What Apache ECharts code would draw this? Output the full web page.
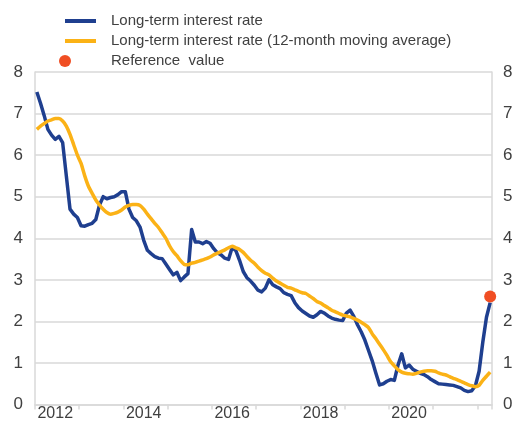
<!DOCTYPE html>
<html>
	<head>
		<meta charset="UTF-8">
		<title>Long-term interest rate</title>
		<script src="https://cdn.jsdelivr.net/npm/echarts@6/dist/echarts.min.js"></script>
		<style>
			html, body { margin: 0; padding: 0; background: #fff; }
		</style>
	</head>
	<body>
		<div id="main" style="width: 515px;height:421px;"></div>
		<script type="text/javascript">
		// monthly data, Jan 2012 .. Apr 2022
		var startYear = 2012;
		var monthCount = 124;
		var yTicks = [0, 1, 2, 3, 4, 5, 6, 7, 8];

		var longTermRate = [
			7.52, 7.25, 6.95, 6.62, 6.48, 6.38, 6.45, 6.30, 5.50, 4.70, 4.58, 4.50,
			4.30, 4.29, 4.33, 4.36, 4.45, 4.80, 5.00, 4.95, 4.98, 5.00, 5.05, 5.12,
			5.12, 4.70, 4.50, 4.42, 4.27, 3.95, 3.71, 3.63, 3.56, 3.52, 3.51, 3.38,
			3.25, 3.12, 3.18, 2.98, 3.07, 3.15, 4.21, 3.91, 3.91, 3.87, 3.92, 3.88,
			3.75, 3.65, 3.60, 3.52, 3.49, 3.78, 3.70, 3.47, 3.20, 3.05, 2.97, 2.87,
			2.75, 2.71, 2.80, 3.00, 2.88, 2.83, 2.79, 2.69, 2.65, 2.62, 2.45, 2.33,
			2.25, 2.19, 2.13, 2.10, 2.16, 2.24, 2.20, 2.13, 2.08, 2.05, 2.03, 2.02,
			2.20, 2.27, 2.12, 1.92, 1.75, 1.55, 1.30, 1.05, 0.75, 0.47, 0.50, 0.56,
			0.60, 0.58, 0.95, 1.22, 0.88, 0.95, 0.85, 0.80, 0.75, 0.72, 0.67, 0.60,
			0.55, 0.50, 0.49, 0.48, 0.47, 0.46, 0.43, 0.40, 0.34, 0.31, 0.33, 0.45,
			0.80, 1.50, 2.10, 2.45
		];

		var movingAverage = [
			6.62, 6.70, 6.76, 6.82, 6.85, 6.88, 6.88, 6.82, 6.70, 6.50, 6.25, 6.00,
			5.80, 5.50, 5.25, 5.08, 4.92, 4.80, 4.70, 4.62, 4.58, 4.60, 4.63, 4.68,
			4.75, 4.79, 4.81, 4.81, 4.79, 4.70, 4.58, 4.47, 4.36, 4.26, 4.13, 4.00,
			3.82, 3.68, 3.58, 3.46, 3.37, 3.36, 3.40, 3.42, 3.45, 3.48, 3.51, 3.55,
			3.60, 3.64, 3.68, 3.72, 3.77, 3.81, 3.77, 3.73, 3.66, 3.56, 3.47, 3.40,
			3.30, 3.22, 3.16, 3.12, 3.04, 2.97, 2.92, 2.87, 2.82, 2.80, 2.76, 2.72,
			2.69, 2.67, 2.61, 2.55, 2.48, 2.44, 2.38, 2.33, 2.27, 2.23, 2.19, 2.15,
			2.13, 2.11, 2.07, 2.03, 1.98, 1.92, 1.85, 1.70, 1.58, 1.45, 1.32, 1.18,
			1.03, 0.93, 0.84, 0.78, 0.75, 0.74, 0.73, 0.75, 0.78, 0.80, 0.81, 0.81,
			0.80, 0.76, 0.73, 0.71, 0.67, 0.63, 0.60, 0.56, 0.52, 0.48, 0.45, 0.43,
			0.46, 0.58, 0.68, 0.78
		];

		var referenceValue = 2.6;

		var categories = [];
		for (var i = 0; i < monthCount; i++) {
			var y = startYear + Math.floor(i / 12);
			var m = (i % 12) + 1;
			categories.push(y + '-' + (m < 10 ? '0' + m : m));
		}

		var font = 'Liberation Sans, Arial, sans-serif';
		var textColor = '#404040';
		var gridColor = '#d9d9d9';

		var myChart = echarts.init(document.getElementById('main'));
		var option = {
			animation: false,
			textStyle: { fontFamily: font },
			legend: [{
				orient: 'vertical',
				left: 65,
				top: 13,
				padding: 0,
				itemGap: 4,
				itemWidth: 31,
				itemHeight: 4,
				icon: 'rect',
				selectedMode: false,
				data: ['Long-term interest rate', 'Long-term interest rate (12-month moving average)'],
				textStyle: { fontFamily: font, fontSize: 15, color: textColor, lineHeight: 16, padding: [0, 0, 0, 10] }
			}, {
				orient: 'vertical',
				left: 59,
				top: 53,
				padding: 0,
				itemWidth: 12,
				itemHeight: 12,
				icon: 'circle',
				selectedMode: false,
				data: ['Reference  value'],
				textStyle: { fontFamily: font, fontSize: 15, color: textColor, lineHeight: 16, padding: [0, 0, 0, 35] }
			}],
			grid: {
				left: 35,
				right: 23,
				top: 72,
				bottom: 16.5,
				containLabel: false,
				outerBoundsMode: 'none'
			},
			xAxis: {
				type: 'category',
				data: categories,
				boundaryGap: true,
				axisLine: { show: true, lineStyle: { color: gridColor, width: 1.5 } },
				axisTick: {
					show: true,
					length: 5,
					interval: function (idx) { return idx % 12 === 0; },
					lineStyle: { color: gridColor, width: 1.5 }
				},
				axisLabel: {
					interval: function (idx) { return idx % 24 === 5; },
					formatter: function (v) { return v.slice(0, 4); },
					fontSize: 16,
					color: textColor,
					margin: 1,
					fontFamily: font
				},
				splitLine: { show: false }
			},
			yAxis: [{
				type: 'value',
				min: yTicks[0],
				max: yTicks[yTicks.length - 1],
				interval: 1,
				position: 'left',
				axisLine: { show: true, lineStyle: { color: gridColor, width: 1.5 } },
				axisTick: { show: false },
				axisLabel: { fontSize: 17, color: textColor, margin: 12, fontFamily: font },
				splitLine: { show: true, lineStyle: { color: gridColor, width: 1.5 } }
			}, {
				type: 'value',
				min: yTicks[0],
				max: yTicks[yTicks.length - 1],
				interval: 1,
				position: 'right',
				axisLine: { show: true, lineStyle: { color: gridColor, width: 1.5 } },
				axisTick: { show: false },
				axisLabel: { fontSize: 17, color: textColor, margin: 11, fontFamily: font },
				splitLine: { show: false }
			}],
			series: [{
				name: 'Long-term interest rate',
				type: 'line',
				data: longTermRate,
				showSymbol: false,
				color: '#1f3f8f',
				lineStyle: { width: 3.5, color: '#1f3f8f', join: 'round' }
			}, {
				name: 'Long-term interest rate (12-month moving average)',
				type: 'line',
				data: movingAverage,
				showSymbol: false,
				smooth: 0.2,
				color: '#fbb216',
				lineStyle: { width: 3.5, color: '#fbb216', join: 'round' }
			}, {
				name: 'Reference  value',
				type: 'scatter',
				data: [[categories[categories.length - 1], referenceValue]],
				symbol: 'circle',
				symbolSize: 12,
				color: '#f04e23',
				itemStyle: { color: '#f04e23', opacity: 1 },
				z: 5
			}]
		};
		myChart.setOption(option);
	</script>
	</body>
</html>
